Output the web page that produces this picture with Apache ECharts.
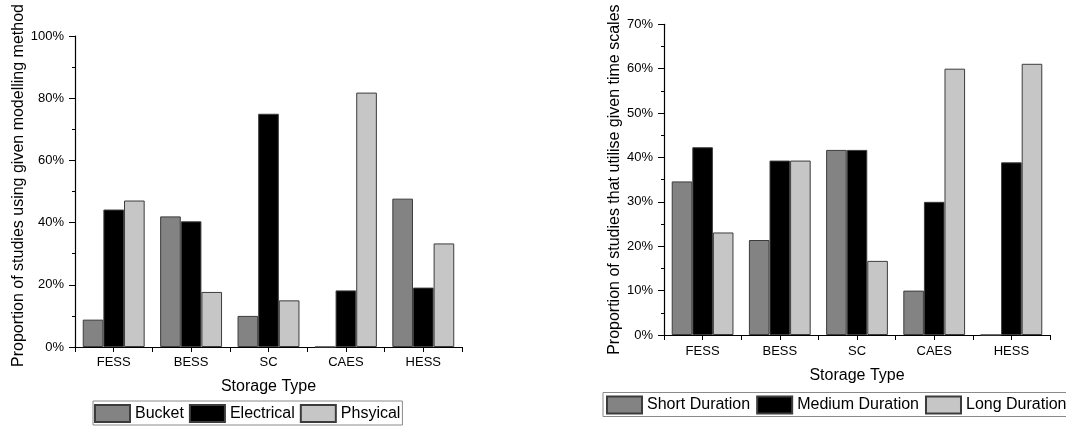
<!DOCTYPE html>
<html>
<head>
<meta charset="utf-8">
<script src="https://cdn.jsdelivr.net/npm/echarts@6/dist/echarts.min.js"></script>
<style>
html,body{margin:0;padding:0;background:#fff;}
#chart{width:1066px;height:427px;}
</style>
</head>
<body>
<div id="chart"></div>
<script>
const categories = ['FESS', 'BESS', 'SC', 'CAES', 'HESS'];

// Left chart: modelling method (%)
const bucket = [8.8, 42.0, 10.0, 0, 47.7];
const electrical = [44.2, 40.4, 75.0, 18.2, 19.1];
const physical = [47.1, 17.7, 15.0, 81.8, 33.3];

// Right chart: time scales (%)
const shortDuration = [34.6, 21.4, 41.7, 10.0, 0];
const mediumDuration = [42.3, 39.3, 41.7, 30.0, 38.9];
const longDuration = [23.1, 39.3, 16.7, 60.0, 61.1];

const leftYTicks = { min: 0, max: 100, interval: 20 };
const rightYTicks = { min: 0, max: 70, interval: 10 };

const FONT = 'Arial, "Liberation Sans", sans-serif';
const TXT = '#000';
const C_DARK = '#838383', C_BLACK = '#000000', C_LIGHT = '#c6c6c6', C_EDGE = '#3c3c3c';

function xAxes(grid, labelMargin, nameGap) {
  return [
    {
      type: 'category', gridIndex: grid, data: categories, position: 'bottom',
      name: 'Storage Type', nameLocation: 'middle', nameGap: nameGap,
      nameTextStyle: { fontSize: 16, color: TXT, fontFamily: FONT },
      axisLine: { lineStyle: { color: '#000', width: 1.2 } },
      axisTick: { show: true, length: 5, lineStyle: { color: '#000' } },
      axisLabel: { fontSize: 13, color: TXT, fontFamily: FONT, margin: labelMargin },
      splitLine: { show: false }
    },
    {
      type: 'category', gridIndex: grid, data: categories, position: 'bottom',
      axisLine: { show: false },
      axisTick: { show: true, alignWithLabel: true, length: 5, lineStyle: { color: '#000' } },
      axisLabel: { show: false },
      splitLine: { show: false }
    }
  ];
}

function yAxis(grid, ticks, name, nameGap, labelMargin, namePad) {
  return {
    type: 'value', gridIndex: grid, min: ticks.min, max: ticks.max, interval: ticks.interval,
    name: name, nameLocation: 'middle', nameGap: nameGap,
    nameTextStyle: { fontSize: 16, color: TXT, fontFamily: FONT, padding: namePad },
    axisLine: { show: true, lineStyle: { color: '#000', width: 1.2 } },
    axisTick: { show: true, length: 6, lineStyle: { color: '#000' } },
    minorTick: { show: true, splitNumber: 2, length: 3, lineStyle: { color: '#000' } },
    axisLabel: { fontSize: 13, color: TXT, fontFamily: FONT, margin: labelMargin, formatter: '{value}%' },
    splitLine: { show: false }
  };
}

function bar(name, data, color, xi, yi) {
  return {
    name: name, type: 'bar', data: data, xAxisIndex: xi, yAxisIndex: yi,
    barCategoryGap: '20%', barGap: '0%',
    itemStyle: { color: color, borderColor: C_EDGE, borderWidth: 1 },
    emphasis: { disabled: true }
  };
}

const legendBase = {
  orient: 'horizontal', icon: 'rect',
  itemWidth: 35, itemHeight: 17,
  borderColor: '#8a8a8a', borderWidth: 1,
  textStyle: { fontSize: 16, color: '#000', fontFamily: FONT },
  selectedMode: false
};

const chart = echarts.init(document.getElementById('chart'), null, { renderer: 'canvas' });
chart.setOption({
  backgroundColor: '#fff',
  animation: false,
  textStyle: { fontFamily: FONT },
  grid: [
    { left: 75, top: 36, width: 387, height: 311 },
    { left: 664, top: 24.3, width: 386, height: 310.7 }
  ],
  xAxis: [].concat(xAxes(0, 9, 32), xAxes(1, 10, 33)),
  yAxis: [
    yAxis(0, leftYTicks, 'Proportion of studies using given modelling method', 44, 11, [0, 0, 0, 12]),
    yAxis(1, rightYTicks, 'Proportion of studies that utilise given time scales', 36, 11, 0)
  ],
  legend: [
    Object.assign({}, legendBase, {
      data: ['Bucket', 'Electrical', 'Phsyical'],
      left: 93, top: 401, itemGap: 5,
      padding: [3, 2, 2, 1]
    }),
    Object.assign({}, legendBase, {
      data: ['Short Duration', 'Medium Duration', 'Long Duration'],
      left: 603, top: 392.5, itemGap: 6, width: 520,
      padding: [3, 3, 2, 3]
    })
  ],
  series: [
    bar('Bucket', bucket, C_DARK, 0, 0),
    bar('Electrical', electrical, C_BLACK, 0, 0),
    bar('Phsyical', physical, C_LIGHT, 0, 0),
    bar('Short Duration', shortDuration, C_DARK, 2, 1),
    bar('Medium Duration', mediumDuration, C_BLACK, 2, 1),
    bar('Long Duration', longDuration, C_LIGHT, 2, 1)
  ]
});
</script>
</body>
</html>
